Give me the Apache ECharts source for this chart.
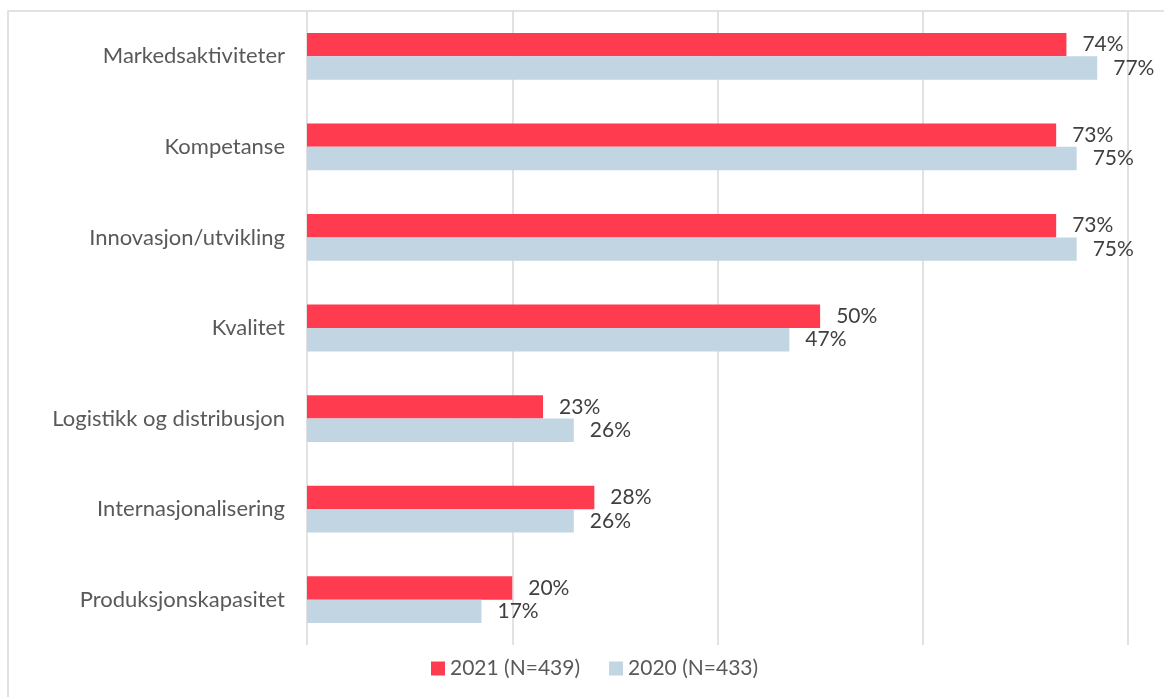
<!DOCTYPE html>
<html>
<head>
<meta charset="utf-8">
<script src="https://cdn.jsdelivr.net/npm/echarts@6/dist/echarts.min.js"></script>
<style>
  html, body { margin: 0; padding: 0; background: #fff; }
  #chart { width: 1164px; height: 697px; }
</style>
</head>
<body>
<div id="chart"></div>
<script>
// Categories, top to bottom
const categories = [
  'Markedsaktiviteter',
  'Kompetanse',
  'Innovasjon/utvikling',
  'Kvalitet',
  'Logistikk og distribusjon',
  'Internasjonalisering',
  'Produksjonskapasitet'
];
// Share of respondents, percent
const values2021 = [74, 73, 73, 50, 23, 28, 20];
const values2020 = [77, 75, 75, 47, 26, 26, 17];
const seriesNames = ['2021 (N=439)', '2020 (N=433)'];

const FONT = 'Lato, "Open Sans", sans-serif';
const chart = echarts.init(document.getElementById('chart'), null, { renderer: 'canvas' });

const label = {
  show: true,
  position: 'right',
  distance: 16,
  formatter: '{c}%',
  color: '#404040',
  fontFamily: FONT,
  fontSize: 21
};

chart.setOption({
  animation: false,
  backgroundColor: '#ffffff',
  textStyle: { fontFamily: FONT },
  graphic: [{
    type: 'rect',
    shape: { x: 8, y: 11, width: 1300, height: 900 },
    style: { fill: 'none', stroke: '#d9d9d9', lineWidth: 1.5 },
    silent: true,
    z: -1
  }],
  grid: { left: 307, right: 36, top: 11, bottom: 52, containLabel: false },
  legend: {
    data: seriesNames,
    left: 426,
    top: 653,
    itemWidth: 14,
    itemHeight: 14,
    itemGap: 29,
    icon: 'rect',
    textStyle: { color: '#595959', fontSize: 21, fontFamily: FONT }
  },
  xAxis: {
    type: 'value',
    min: 0,
    max: 80,
    interval: 20,
    axisLabel: { show: false },
    axisLine: { show: false },
    axisTick: { show: false },
    splitLine: { show: true, lineStyle: { color: '#d9d9d9', width: 1.5 } }
  },
  yAxis: {
    type: 'category',
    data: categories,
    inverse: true,
    axisLine: { show: false },
    axisTick: { show: false },
    axisLabel: { color: '#595959', fontSize: 22, fontFamily: FONT, margin: 22 }
  },
  series: [
    {
      name: seriesNames[0],
      type: 'bar',
      data: values2021,
      barWidth: 23.4,
      barGap: '0%',
      itemStyle: { color: '#ff3b50' },
      label: label
    },
    {
      name: seriesNames[1],
      type: 'bar',
      data: values2020,
      barWidth: 23.4,
      barGap: '0%',
      itemStyle: { color: '#c1d6e2' },
      label: label
    }
  ]
});
</script>
</body>
</html>
